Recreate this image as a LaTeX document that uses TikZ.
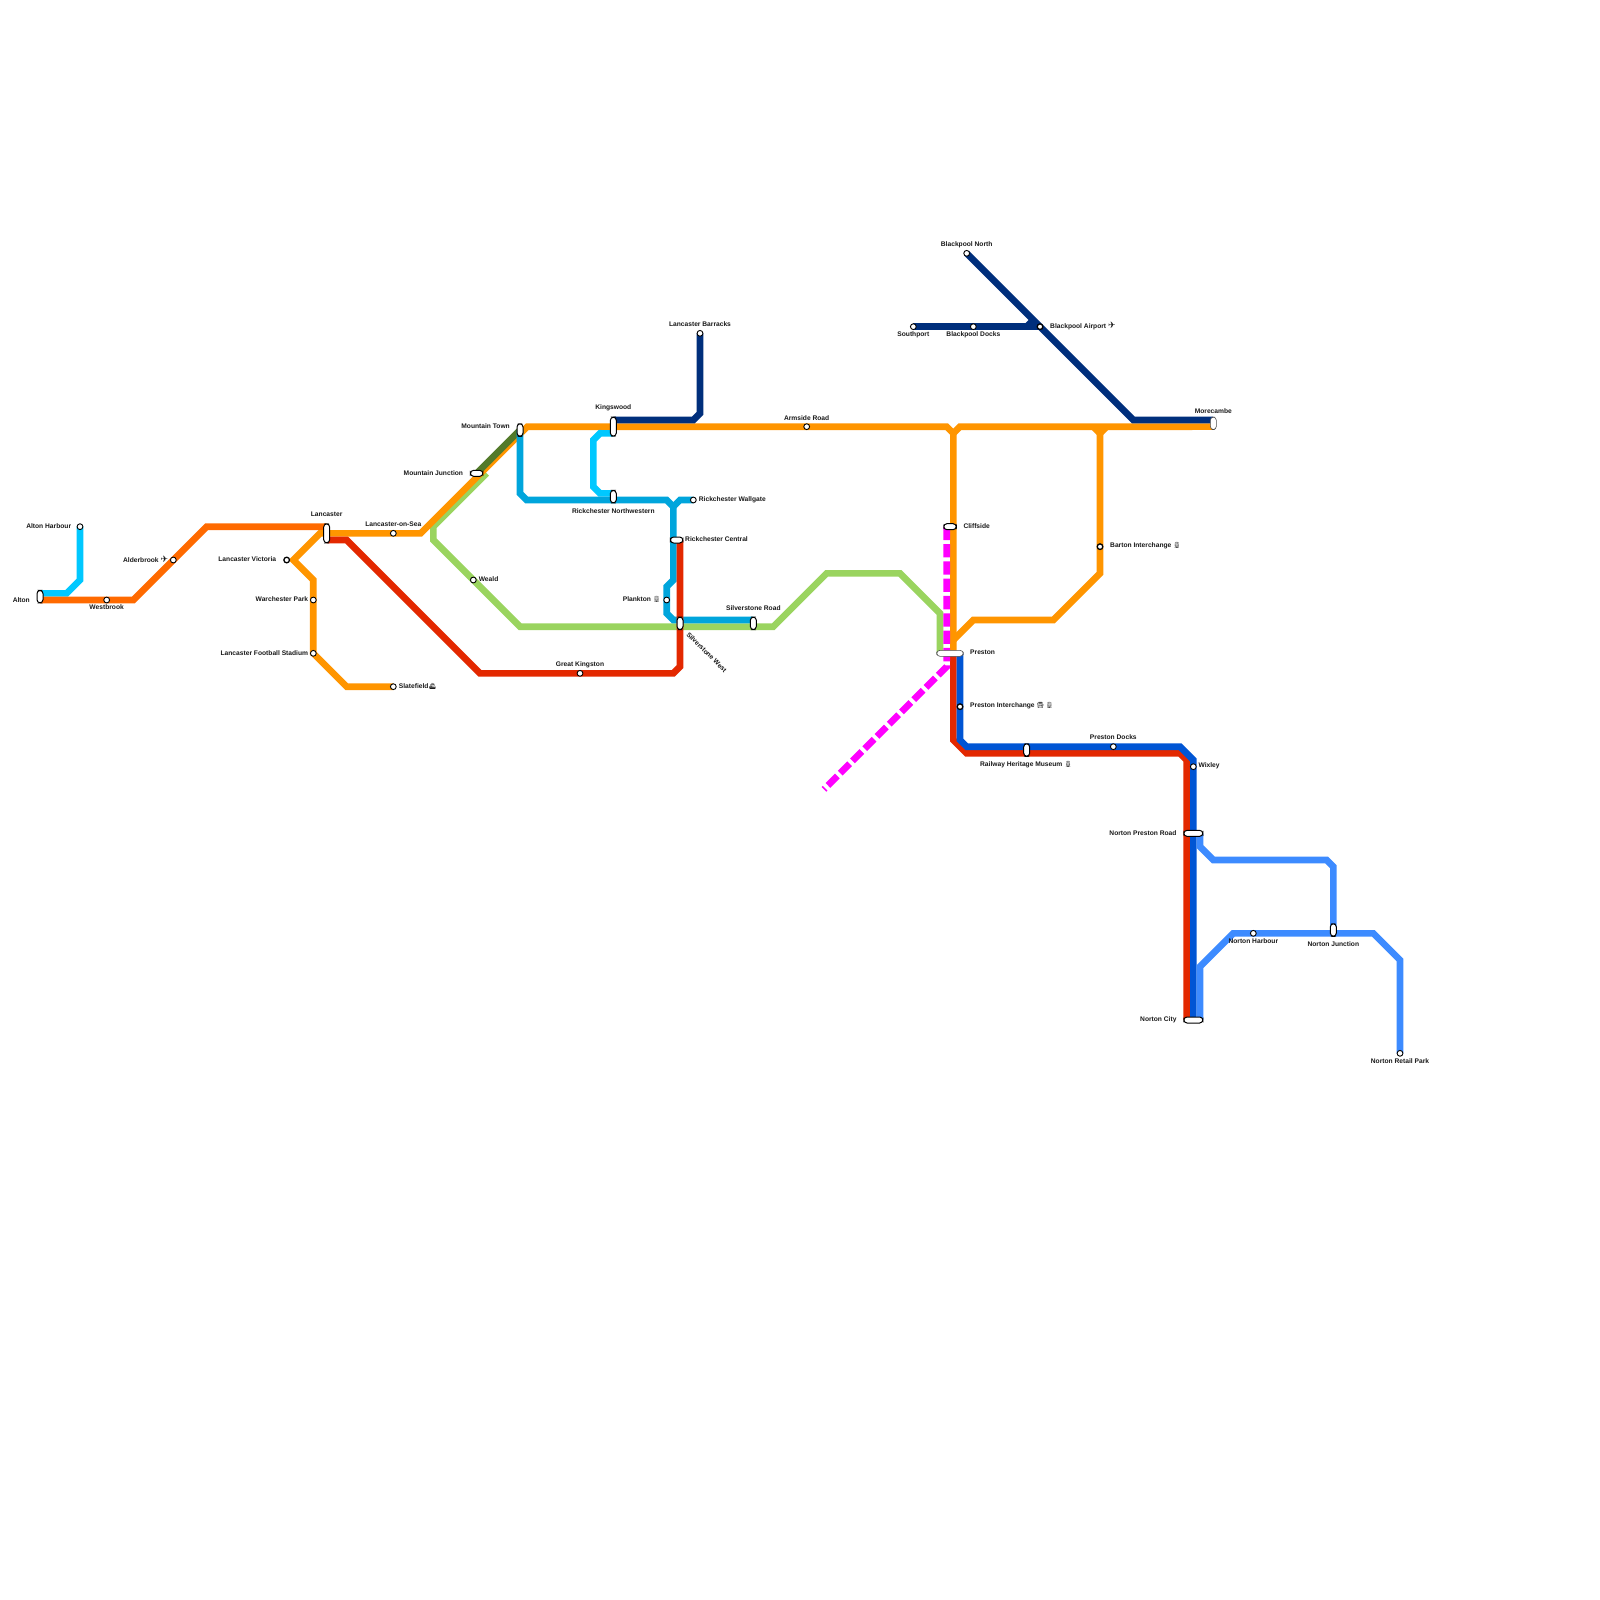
\documentclass[tikz,border=0pt]{standalone}
\usepackage{fontspec}
\setmainfont{Liberation Sans}
\newfontfamily\emofam{Noto Emoji}
\newfontfamily\djv{DejaVu Sans}
\newcommand{\emi}[1]{{\fontsize{6}{8}\selectfont\emofam #1}}
\newcommand{\pln}{{\fontsize{9}{8}\selectfont\djv ✈}}
\usetikzlibrary{backgrounds}
\definecolor{cOrangeDk}{HTML}{FF6A00}
\definecolor{cOrange}{HTML}{FF9500}
\definecolor{cCyan}{HTML}{00C8FF}
\definecolor{cTeal}{HTML}{00A5DC}
\definecolor{cNavy}{HTML}{002F7C}
\definecolor{cRed}{HTML}{E32800}
\definecolor{cBlue}{HTML}{0055D4}
\definecolor{cLight}{HTML}{3D8BFF}
\definecolor{cGreen}{HTML}{9AD45F}
\definecolor{cGreenDk}{HTML}{527A2A}
\definecolor{cMag}{HTML}{FF00FF}
\tikzset{
  ln/.style={line width=6.67pt,line join=miter,line cap=butt,miter limit=10},
  stn/.style={circle,draw=black,fill=white,line width=0.9pt,inner sep=0pt,minimum size=5.8pt},
  stnx/.style={circle,draw=black,fill=white,line width=1.3pt,inner sep=0pt,minimum size=5.6pt},
  pill/.style={rectangle,draw=black,fill=white,line width=1pt,inner sep=0pt,rounded corners=3.2pt},
  pillg/.style={rectangle,draw=black!70,fill=white,line width=0.6pt,inner sep=0pt,rounded corners=3.2pt},
  lab/.style={inner sep=0pt,text=black!90,font=\fontsize{6.67}{8}\selectfont\bfseries}
}
\begin{document}
\begin{tikzpicture}[x=1pt,y=-1pt]
\useasboundingbox (0,0) rectangle (1600,1600);
% stations: circles
\node[stn] (nAltonH) at (80,526.67) {};
\node[stn] (nWestbrook) at (106.67,600) {};
\node[stn] (nAlder) at (173.33,560) {};
\node[stnx] (nVictoria) at (286.67,560) {};
\node[stn] (nWarch) at (313.33,600) {};
\node[stn] (nStadium) at (313.33,653.33) {};
\node[stn] (nOnSea) at (393.33,533.33) {};
\node[stn] (nSlate) at (393.33,686.67) {};
\node[stn] (nWeald) at (473.33,580) {};
\node[stn] (nGreatK) at (580,673.33) {};
\node[stn] (nBarracks) at (700,333.33) {};
\node[stn] (nWallgate) at (693.33,500) {};
\node[stn] (nPlankton) at (666.67,600) {};
\node[stn] (nArmside) at (806.67,426.67) {};
\node[stn] (nBNorth) at (966.67,253.33) {};
\node[stn] (nSouthport) at (913.33,326.67) {};
\node[stn] (nBDocks) at (973.33,326.67) {};
\node[stnx] (nBAirport) at (1040,326.67) {};
\node[stnx] (nBarton) at (1100,546.67) {};
\node[stnx] (nInterch) at (960,706.67) {};
\node[stn] (nPDocks) at (1113.33,746.67) {};
\node[stn] (nWixley) at (1193.33,766.67) {};
\node[stn] (nNHarbour) at (1253.33,933.33) {};
\node[stn] (nRetail) at (1400,1053.33) {};
% stations: pills
\node[pill,minimum width=6pt,minimum height=12.5pt] (nAlton) at (40,596.67) {};
\node[pill,minimum width=6pt,minimum height=19pt] (nLancaster) at (326.67,533.33) {};
\node[pill,minimum width=12.5pt,minimum height=6pt] (nMJunction) at (476.67,473.33) {};
\node[pill,minimum width=6pt,minimum height=12.5pt] (nMTown) at (520,430) {};
\node[pill,minimum width=6pt,minimum height=19pt] (nKings) at (613.33,426.67) {};
\node[pill,minimum width=6pt,minimum height=12.5pt] (nNorthW) at (613.33,496.67) {};
\node[pill,minimum width=12.5pt,minimum height=6pt] (nCentral) at (676.67,540) {};
\node[pill,minimum width=6pt,minimum height=12.5pt] (nSWest) at (680,623.33) {};
\node[pill,minimum width=6pt,minimum height=12.5pt] (nSRoad) at (753.33,623.33) {};
\node[pillg,minimum width=6pt,minimum height=12.5pt] (nMore) at (1213.33,423.33) {};
\node[pill,minimum width=12.5pt,minimum height=6pt] (nCliff) at (950,526.67) {};
\node[pillg,minimum width=26.5pt,minimum height=6pt] (nPreston) at (950,653.33) {};
\node[pill,minimum width=6pt,minimum height=12.5pt] (nMuseum) at (1026.67,750) {};
\node[pill,minimum width=19pt,minimum height=6pt] (nNPR) at (1193.33,833.33) {};
\node[pill,minimum width=19pt,minimum height=6pt] (nNCity) at (1193.33,1020) {};
\node[pill,minimum width=6pt,minimum height=12.5pt] (nNJunction) at (1333.33,930) {};
% lines
\begin{pgfonlayer}{background}
\fill[white] (0,0) rectangle (1600,1600);
\draw[ln,cCyan] ([yshift=3.33pt]nAlton.center) -- (66.67,593.33) -- (80,580) -- (nAltonH.center);
\draw[ln,cOrangeDk] ([yshift=-3.33pt]nAlton.center) -- (nWestbrook.center) -- (133.33,600) -- (206.67,526.67) -- ([yshift=6.67pt]nLancaster.center);
\draw[ln,cGreen] (486.67,473.33) -- (433.33,526.67) -- (433.33,540) -- (520,626.67) -- (773.33,626.67) -- (826.67,573.33) -- (900,573.33) -- (940,613.33) -- ([xshift=-10pt]nPreston.center);
\draw[ln,cOrange] (nLancaster.center) -- (420.67,533.33) -- (527.33,426.67) -- (946.67,426.67) -- (953.33,433.33) -- ([xshift=3.33pt]nPreston.center);
\draw[ln,cGreenDk] (nMJunction.center) -- (nMTown.center);
\draw[ln,cOrange] (953.33,433.33) -- (960,426.67) -- ([yshift=-3.33pt]nMore.center);
\draw[ln,cOrange] (1093.33,426.67) -- (1100,433.33) -- (1106.67,426.67);
\draw[ln,cOrange] (1100,433.33) -- (nBarton.center) -- (1100,573.33) -- (1053.33,620) -- (973.33,620) -- (953.33,640);
\draw[ln,cOrange] (nLancaster.center) -- (320,533.33) -- (293.33,560) -- (313.33,580) -- (nWarch.center) -- (nStadium.center) -- (346.67,686.67) -- (nSlate.center);
\draw[ln,cNavy] (nBarracks.center) -- (700,413.33) -- (693.33,420) -- ([yshift=6.67pt]nKings.center);
\draw[ln,cCyan] ([yshift=-6.67pt]nKings.center) -- (600,433.33) -- (593.33,440) -- (593.33,486.67) -- (600,493.33) -- ([yshift=3.33pt]nNorthW.center);
\draw[ln,cTeal] (nMTown.center) -- (520,493.33) -- (526.67,500) -- (666.67,500) -- (673.33,506.67) -- (673.33,580) -- (666.67,586.67) -- (666.67,613.33) -- (673.33,620) -- ([yshift=3.33pt]nSRoad.center);
\draw[ln,cTeal] (673.33,506.67) -- (680,500) -- (nWallgate.center);
\draw[ln,cRed] ([yshift=-6.67pt]nLancaster.center) -- (346.67,540) -- (480,673.33) -- (673.33,673.33) -- (680,666.67) -- ([xshift=3.33pt]nCentral.center);
\draw[ln,cNavy] (nBNorth.center) -- (1133.33,420) -- ([yshift=3.33pt]nMore.center);
\draw[ln,cNavy] (nSouthport.center) -- (nBAirport.center);
\draw[ln,cNavy] (1026.67,326.67) -- (1033.33,320);
\draw[ln,cRed] ([xshift=3.33pt]nPreston.center) -- (953.33,740) -- (966.67,753.33) -- (1180,753.33) -- (1186.67,760) -- ([xshift=-6.67pt]nNCity.center);
\draw[ln,cBlue] (nInterch.center |- nPreston.center) -- (nInterch.center) -- (960,740) -- (966.67,746.67) -- (1180,746.67) -- (1193.33,760) -- (nNCity.center);
\draw[ln,cLight] ([xshift=6.67pt]nNPR.center) -- (1200,846.67) -- (1213.33,860) -- (1326.67,860) -- (1333.33,866.67) -- (nNJunction.center);
\draw[ln,cLight] ([xshift=6.67pt]nNCity.center) -- (1200,966.67) -- (1233.33,933.33) -- (1373.33,933.33) -- (1400,960) -- (nRetail.center);
\draw[ln,cMag,dash pattern=on 13.33pt off 4pt] ([xshift=-3.33pt]nCliff.center) -- (946.67,666.67) -- (824,789.33);
\end{pgfonlayer}
% labels
\node[lab,anchor=east] (tAltonH) at (71.3,526.2) {Alton Harbour};
\node[lab,anchor=east] (tAlton) at (30,599.7) {Alton};
\node[lab] (tWestbrook) at (106.67,607.5) {Westbrook};
\node[lab,anchor=east] (tAlder) at (168.3,559.7) {Alderbrook \pln};
\node[lab,anchor=east] (tVictoria) at (276.3,559.5) {Lancaster Victoria};
\node[lab,anchor=east] (tWarch) at (308.3,599.5) {Warchester Park};
\node[lab,anchor=east] (tStadium) at (308.3,652.8) {Lancaster Football Stadium};
\node[lab] (tLancaster) at (326.67,514.5) {Lancaster};
\node[lab] (tOnSea) at (393.33,524.3) {Lancaster-on-Sea};
\node[lab,anchor=west] (tSlate) at (398.7,686) {Slatefield\emi{🚢}};
\node[lab,anchor=west] (tWeald) at (478.6,579.3) {Weald};
\node[lab,anchor=east] (tMJunction) at (463.2,472.7) {Mountain Junction};
\node[lab,anchor=east] (tMTown) at (510,425.8) {Mountain Town};
\node[lab] (tBarracks) at (700,324.3) {Lancaster Barracks};
\node[lab] (tKings) at (613.33,407.7) {Kingswood};
\node[lab] (tArmside) at (806.67,417.7) {Armside Road};
\node[lab] (tNorthW) at (613.33,511) {Rickchester Northwestern};
\node[lab,anchor=west] (tWallgate) at (698.7,499.3) {Rickchester Wallgate};
\node[lab,anchor=west] (tCentral) at (685,539.3) {Rickchester Central};
\node[lab,anchor=east] (tPlankton) at (660.7,599.5) {Plankton \emi{🚆}};
\node[lab] (tSRoad) at (753.33,607.7) {Silverstone Road};
\node[lab] (tGreatK) at (580,664.7) {Great Kingston};
\node[lab,rotate=-45] (tSWest) at (706.67,652.3) {Silverstone West};
\node[lab,anchor=west] (tCliff) at (963.3,526) {Cliffside};
\node[lab,anchor=west] (tPreston) at (970,652.7) {Preston};
\node[lab,anchor=west] (tInterch) at (970,706) {Preston Interchange \emi{🚍}\hspace{1.5pt}\emi{🚆}};
\node[lab] (tMuseum) at (1026,764.3) {Railway Heritage Museum \emi{🚆}};
\node[lab,anchor=west] (tBarton) at (1110,546) {Barton Interchange \emi{🚆}};
\node[lab] (tPDocks) at (1113.33,737.3) {Preston Docks};
\node[lab,anchor=west] (tWixley) at (1198.3,766) {Wixley};
\node[lab,anchor=east] (tNPR) at (1176.7,832.7) {Norton Preston Road};
\node[lab,anchor=east] (tNCity) at (1176.7,1019.3) {Norton City};
\node[lab] (tNHarbour) at (1253.33,941) {Norton Harbour};
\node[lab] (tNJunction) at (1333.33,944.3) {Norton Junction};
\node[lab] (tRetail) at (1400,1061) {Norton Retail Park};
\node[lab] (tBNorth) at (966.67,244.3) {Blackpool North};
\node[lab] (tSouthport) at (913.33,334.3) {Southport};
\node[lab] (tBDocks) at (973.33,334.3) {Blackpool Docks};
\node[lab,anchor=west] (tBAirport) at (1050,326) {Blackpool Airport \pln};
\node[lab] (tMore) at (1213.33,410.7) {Morecambe};
\end{tikzpicture}
\end{document}
